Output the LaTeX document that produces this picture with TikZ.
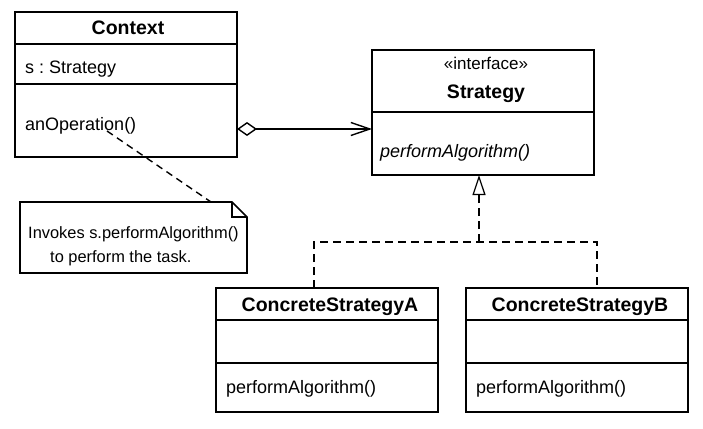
\documentclass[tikz,border=0pt]{standalone}
\usepackage{fontspec}
\setmainfont{Liberation Sans}
\usetikzlibrary{arrows.meta}
\frenchspacing
\begin{document}
\begin{tikzpicture}[x=1pt,y=-1pt,
  umlbox/.style={draw, line width=1.6pt, anchor=north west, inner sep=0pt, outer sep=0pt},
  divider/.style={line width=1.4pt},
  txt/.style={inner sep=0pt, anchor=base west, font=\fontsize{18}{20}\selectfont},
  ttl/.style={inner sep=0pt, anchor=base, font=\fontsize{19.5}{22}\selectfont\bfseries},
  notetxt/.style={inner sep=0pt, anchor=base west, font=\fontsize{16.4}{19}\selectfont},
  conn/.style={line width=1.4pt},
  dashconn/.style={line width=1.4pt, dash pattern=on 8pt off 5pt},
]
\useasboundingbox (0,0) rectangle (703,428);

% Context
\node[umlbox, minimum width=222pt, minimum height=145pt] (ctx) at (15,12) {};
\draw[divider] (15,44) -- (237,44);
\draw[divider] (15,84) -- (237,84);
\node[ttl] (ctxT) at (128,35) {Context};
\node[txt] (ctxA) at (25,74) {s : Strategy};
\node[txt] (ctxO) at (25,130) {anOperation()};

% Strategy
\node[umlbox, minimum width=222pt, minimum height=125pt] (str) at (372,50) {};
\draw[divider] (372,112) -- (594,112);
\node[inner sep=0pt, anchor=base, font=\fontsize{17}{19}\selectfont] (strS) at (486,69) {«interface»};
\node[ttl] (strT) at (486,98) {Strategy};
\node[txt, font=\fontsize{18}{20}\selectfont\itshape] (strO) at (380,157) {performAlgorithm()};

% ConcreteStrategyA
\node[umlbox, minimum width=222pt, minimum height=124pt] (csa) at (216,288) {};
\draw[divider] (216,320) -- (438,320);
\draw[divider] (216,363) -- (438,363);
\node[ttl] (csaT) at (330,311) {ConcreteStrategyA};
\node[txt] (csaO) at (226,393) {performAlgorithm()};

% ConcreteStrategyB
\node[umlbox, minimum width=222pt, minimum height=124pt] (csb) at (466,288) {};
\draw[divider] (466,320) -- (688,320);
\draw[divider] (466,363) -- (688,363);
\node[ttl] (csbT) at (580,311) {ConcreteStrategyB};
\node[txt] (csbO) at (476,393) {performAlgorithm()};

% Note
\draw[line width=1.6pt, line join=miter] (20,202) -- (232,202) -- (247,217) -- (247,273) -- (20,273) -- cycle;
\draw[line width=1.4pt] (232,202) -- (232,217) -- (247,217);
\node[notetxt] (n1) at (28,238) {Invokes s.performAlgorithm()};
\node[notetxt] (n2) at (50,262) {to perform the task.};

% coordinates
\coordinate (opRef) at (107,131);
\coordinate (noteTop) at (211,202);
\coordinate (aggS) at (237,129);
\coordinate (aggE) at (372,129);
\coordinate (rA) at (314,288);
\coordinate (rA1) at (314,242);
\coordinate (rB) at (597,288);
\coordinate (rB1) at (597,242);
\coordinate (rM) at (479,242);
\coordinate (rT) at (479,175);

% connectors
\draw[line width=1.4pt, dash pattern=on 7pt off 5pt] (opRef) -- (noteTop);
\draw[conn, {Diamond[open, length=20pt, width=14pt, line width=1.4pt]}-{Straight Barb[length=19pt, width=13pt, line width=1.4pt]}] (aggS) -- (aggE);
\draw[dashconn] (rA) -- (rA1) -- (rB1) -- (rB);
\draw[dashconn, -{Triangle[open, length=20pt, width=13pt, line width=1.2pt]}] (rM) -- (rT);
\end{tikzpicture}
\end{document}
